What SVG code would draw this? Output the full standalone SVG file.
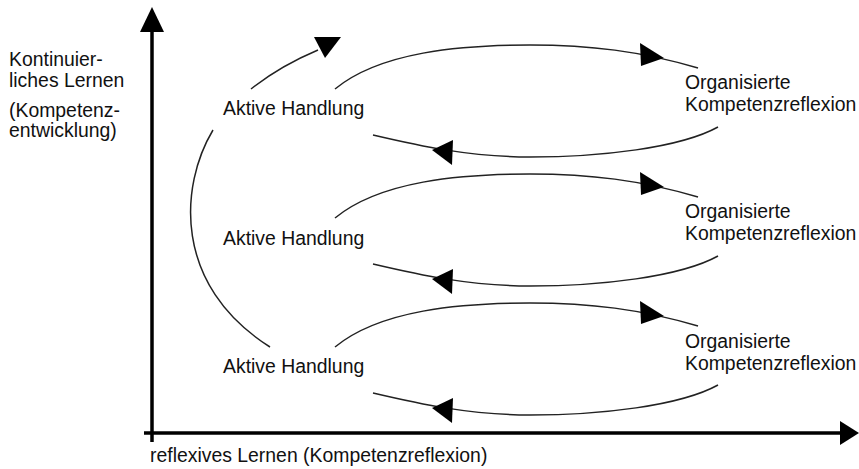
<svg xmlns="http://www.w3.org/2000/svg" width="859" height="469" viewBox="0 0 859 469">
<defs>
<style>
text{font-family:"Liberation Sans",Arial,sans-serif;font-size:19.4px;fill:#111}
.c{fill:none;stroke:#222;stroke-width:1.5}
.ax{fill:none;stroke:#000;stroke-width:3.5}
.ah{fill:#000}
</style>
</defs>
<rect width="859" height="469" fill="#fff"/>
<g id="axes">
<line class="ax" x1="152" y1="442" x2="152" y2="28"/>
<polygon class="ah" points="152,7 140,32 164,32"/>
<line class="ax" x1="144" y1="433" x2="840" y2="433"/>
<polygon class="ah" points="859,433 840,421 840,445"/>
</g>
<g id="axis-labels">
<text x="9" y="66">Kontinuier-</text>
<text x="9" y="87">liches Lernen</text>
<text x="9" y="117">(Kompetenz-</text>
<text x="9" y="137">entwicklung)</text>
<text x="150" y="462">reflexives Lernen (Kompetenzreflexion)</text>
</g>
<g id="connectors">
<path class="c" d="M213,130 C180,185 172,285 270,347"/>
<path class="c" d="M251,89 Q280,66 318,50"/>
<polygon class="ah" points="314,37 341,37 325,58"/>
<g id="loop1">
<path class="c" d="M335,89 C380,52 460,45 530,45 C590,45 640,51 698,68"/>
<polygon class="ah" points="664,58 640,43 641,66"/>
<path class="c" d="M718,127 C680,148 600,157 530,157 C470,157 420,146 373,135"/>
<polygon class="ah" points="432,150 453,140 452,165"/>
</g>
<g id="loop2" transform="translate(0,129)">
<path class="c" d="M335,89 C380,52 460,45 530,45 C590,45 640,51 698,68"/>
<polygon class="ah" points="664,58 640,43 641,66"/>
<path class="c" d="M718,127 C680,148 600,157 530,157 C470,157 420,146 373,135"/>
<polygon class="ah" points="432,150 453,140 452,165"/>
</g>
<g id="loop3" transform="translate(0,258)">
<path class="c" d="M335,89 C380,52 460,45 530,45 C590,45 640,51 698,68"/>
<polygon class="ah" points="664,58 640,43 641,66"/>
<path class="c" d="M718,127 C680,148 600,157 530,157 C470,157 420,146 373,135"/>
<polygon class="ah" points="432,150 453,140 452,165"/>
</g>
</g>
<g id="aktive1"><text x="223" y="115">Aktive Handlung</text></g>
<g id="aktive2"><text x="223" y="245">Aktive Handlung</text></g>
<g id="aktive3"><text x="223" y="373">Aktive Handlung</text></g>
<g id="org1"><text x="685" y="89">Organisierte</text><text x="685" y="111">Kompetenzreflexion</text></g>
<g id="org2"><text x="685" y="218">Organisierte</text><text x="685" y="240">Kompetenzreflexion</text></g>
<g id="org3"><text x="685" y="348">Organisierte</text><text x="685" y="370">Kompetenzreflexion</text></g>
</svg>
